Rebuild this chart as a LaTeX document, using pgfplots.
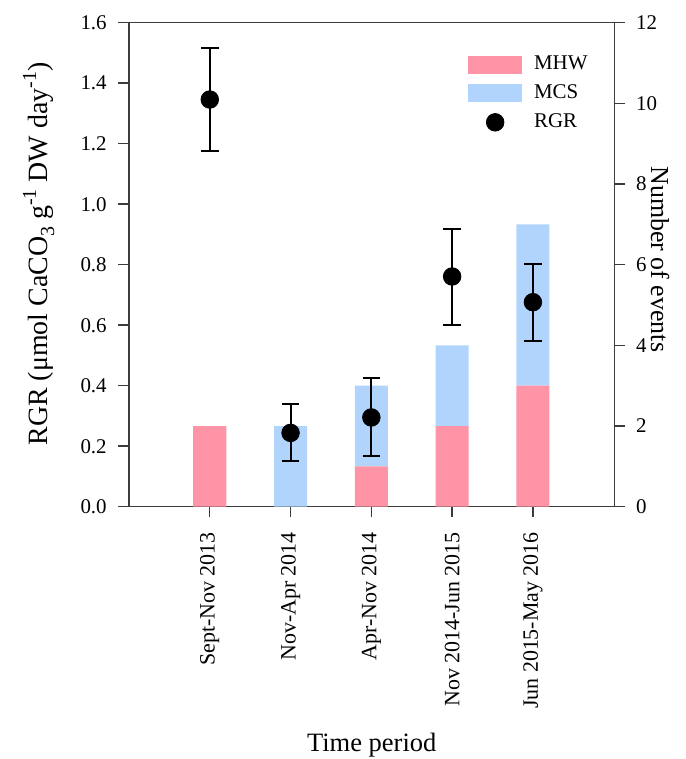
\documentclass[border=0pt]{standalone}
\usepackage{pgfplots}
\pgfplotsset{compat=1.18}
\usepackage{pgfplotstable}
\usepackage{fontspec}
\setmainfont{Liberation Serif}
\definecolor{mhw}{RGB}{255,148,166}
\definecolor{mcs}{RGB}{176,212,252}
\definecolor{axgray}{RGB}{60,60,60}
\newcommand\sups[1]{\raisebox{0.42em}{\fontsize{10}{12}\selectfont #1}}
\newcommand\subs[1]{\raisebox{-0.22em}{\fontsize{10}{12}\selectfont #1}}

\pgfplotstableread{
x mhw mcs
0 2 0
1 0 2
2 1 2
3 2 2
4 3 4
}\events

\pgfplotstableread{
x y ep em
0 1.346 0.171 0.169
1 0.244 0.094 0.092
2 0.295 0.129 0.128
3 0.761 0.158 0.161
4 0.676 0.127 0.127
}\rgr

\begin{document}
\begin{tikzpicture}
\pgfplotsset{
  common/.style={
    scale only axis,
    width=242.75bp, height=242bp,
    xmin=-1, xmax=5.01,
    tick align=outside,
    major tick length=5.25bp,
    tick style={axgray, line width=0.7bp},
    axis line style={axgray, line width=0.7bp},
    yticklabel style={font=\fontsize{10.5}{12}\selectfont},
    xticklabel style={font=\fontsize{11}{13}\selectfont},
    /pgf/number format/assume math mode=true,
  }
}
\begin{axis}[common,
  name=ev,
  ybar stacked, bar width=0.41,
  ymin=0, ymax=12, ytick={0,2,...,12},
  xtick={0,1,2,3,4},
  xticklabels={Sept-Nov 2013,Nov-Apr 2014,Apr-Nov 2014,Nov 2014-Jun 2015,Jun 2015-May 2016},
  xticklabel style={rotate=90, anchor=east, xshift=-4bp},
  xtick pos=bottom, ytick pos=right, yticklabel pos=right,
  yticklabel style={xshift=2bp},
  xlabel={Time period},
  xlabel style={font=\fontsize{13.3}{15}\selectfont, at={(axis description cs:0.5,-0.506)}, anchor=base},
  ylabel={Number of events},
  ylabel style={font=\fontsize{13}{15}\selectfont, at={(axis description cs:1.094,0.511)}, anchor=center, rotate=180},
]
\addplot[fill=mhw, draw=none] table[x=x, y=mhw] {\events};
\addplot[fill=mcs, draw=none] table[x=x, y=mcs] {\events};
\end{axis}
\begin{axis}[common,
  axis y line*=left, axis x line=none,
  ymin=0, ymax=1.6, ytick={0,0.2,...,1.6},
  yticklabel style={xshift=-2.4bp, /pgf/number format/.cd, fixed, fixed zerofill, precision=1},
  ylabel={RGR (μmol CaCO\subs{3} g\sups{-1} DW day\sups{-1})},
  ylabel style={font=\fontsize{14}{16}\selectfont, at={(axis description cs:-0.167,0.522)}, anchor=base},
  legend style={draw=none, fill=none, at={(axis description cs:0.698,0.933)}, anchor=north west,
    font=\fontsize{10.5}{12}\selectfont, row sep=5.5bp, inner sep=0pt,
    nodes={inner xsep=6bp, inner ysep=0pt}},
  legend cell align=left,
]
\addlegendimage{legend image code/.code={\fill[mhw] (0bp,-4.25bp) rectangle (26.5bp,4.25bp);}}
\addlegendentry{MHW}
\addlegendimage{legend image code/.code={\fill[mcs] (0bp,-4.25bp) rectangle (26.5bp,4.25bp);}}
\addlegendentry{MCS}
\addlegendimage{legend image code/.code={\fill[black] (13.25bp,0bp) circle (4.4bp);}}
\addlegendentry{RGR}
\addplot[only marks, mark=*, mark size=4.4bp, black, forget plot,
  error bars/.cd, y dir=both, y explicit,
  error bar style={line width=1bp, black},
  error mark options={rotate=90, mark size=4.4bp, line width=1bp, black}]
  table[x=x, y=y, y error plus=ep, y error minus=em] {\rgr};
\end{axis}
\pgfresetboundingbox
\path[use as bounding box] ([shift={(-64.5bp,-126.15bp)}]ev.south west) rectangle ([shift={(35.75bp,11.35bp)}]ev.north east);
\end{tikzpicture}
\end{document}
